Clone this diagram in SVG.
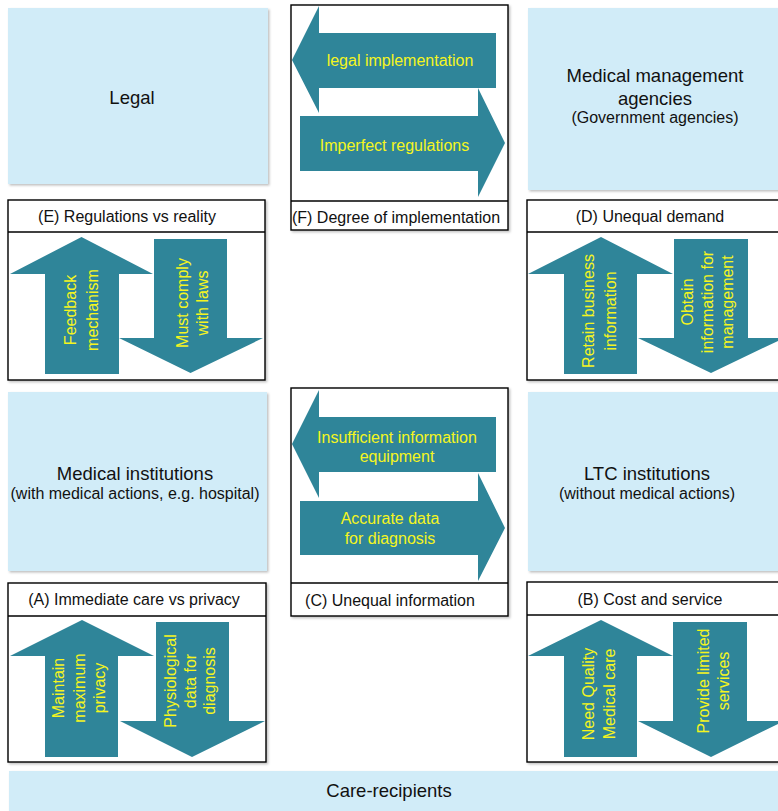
<svg xmlns="http://www.w3.org/2000/svg" width="778" height="811" viewBox="0 0 778 811">
<defs>
<filter id="sh" x="-5%" y="-5%" width="115%" height="115%">
<feDropShadow dx="1.5" dy="1.5" stdDeviation="0.8" flood-color="#000" flood-opacity="0.25"/>
</filter>
<style>
text{font-family:"Liberation Sans",Arial,Helvetica,sans-serif;text-anchor:middle;}
.blue{fill:#D1ECF8;filter:url(#sh);}
.panel{fill:#fff;stroke:#000;stroke-width:1.4;filter:url(#sh);}
.div{stroke:#000;stroke-width:1.4;fill:none;}
.arr{fill:#2F8599;}
.t1{font-size:18.5px;fill:#111;}
.t2{font-size:16px;fill:#111;}
.lab{font-size:16px;fill:#111;}
.at{font-size:16px;fill:#F5F51E;}
</style>
</defs>
<rect width="778" height="811" fill="#fff"/>

<g id="legal">
<rect class="blue" x="8" y="8" width="260" height="176"/>
<text class="t1" x="132" y="104">Legal</text>
</g>

<g id="medical-management-agencies">
<rect class="blue" x="528" y="8" width="262" height="182"/>
<text class="t1" x="655" y="82">Medical management</text>
<text class="t1" x="655" y="105">agencies</text>
<text class="t2" x="655" y="123">(Government agencies)</text>
</g>

<g id="medical-institutions">
<rect class="blue" x="8" y="392" width="259" height="179"/>
<text class="t1" x="135" y="480">Medical institutions</text>
<text class="t2" x="135" y="499">(with medical actions, e.g. hospital)</text>
</g>

<g id="ltc-institutions">
<rect class="blue" x="528" y="392" width="262" height="179"/>
<text class="t1" x="647" y="480">LTC institutions</text>
<text class="t2" x="647" y="499">(without medical actions)</text>
</g>

<g id="care-recipients">
<rect class="blue" x="9" y="771" width="781" height="45"/>
<text class="t1" x="389" y="797">Care-recipients</text>
</g>

<g id="panel-E">
<rect class="panel" x="8" y="200" width="257" height="180"/>
<line class="div" x1="8" y1="232" x2="265" y2="232"/>
<text class="lab" x="127" y="222">(E) Regulations vs reality</text>
</g>

<g id="panel-F">
<rect class="panel" x="291" y="5" width="217" height="225"/>
<line class="div" x1="291" y1="201" x2="508" y2="201"/>
<text class="lab" x="396" y="223">(F) Degree of implementation</text>
</g>

<g id="panel-D">
<rect class="panel" x="527" y="200" width="263" height="180"/>
<line class="div" x1="527" y1="232" x2="790" y2="232"/>
<text class="lab" x="650" y="222">(D) Unequal demand</text>
</g>

<g id="panel-C">
<rect class="panel" x="291" y="388" width="217" height="228"/>
<line class="div" x1="291" y1="583" x2="508" y2="583"/>
<text class="lab" x="390" y="606">(C) Unequal information</text>
</g>

<g id="panel-A">
<rect class="panel" x="8" y="583" width="258" height="179"/>
<line class="div" x1="8" y1="616" x2="266" y2="616"/>
<text class="lab" x="134" y="605">(A) Immediate care vs privacy</text>
</g>

<g id="panel-B">
<rect class="panel" x="527" y="582" width="263" height="180"/>
<line class="div" x1="527" y1="615" x2="790" y2="615"/>
<text class="lab" x="650" y="605">(B) Cost and service</text>
</g>

<g id="connectors">
<g id="arrow-legal-implementation">
<path class="arr" d="M292,60 L319,6 L319,33 L496,33 L496,88 L319,88 L319,113 Z"/>
<text class="at" x="400" y="65.6">legal implementation</text>
</g>
<g id="arrow-imperfect-regulations">
<path class="arr" d="M505,143 L478,88 L478,116 L300,116 L300,171 L478,171 L478,197 Z"/>
<text class="at" x="394.5" y="151">Imperfect regulations</text>
</g>
<g id="arrow-insufficient-info">
<path class="arr" d="M292,444 L319,390 L319,417 L496,417 L496,472 L319,472 L319,498 Z"/>
<text class="at" x="397" y="442.6">Insufficient information</text>
<text class="at" x="397" y="461.6">equipment</text>
</g>
<g id="arrow-accurate-data">
<path class="arr" d="M505,528 L478,473 L478,501 L300,501 L300,555 L478,555 L478,581 Z"/>
<text class="at" x="390" y="523.6">Accurate data</text>
<text class="at" x="390" y="543.6">for diagnosis</text>
</g>
<g id="arrow-feedback">
<path class="arr" d="M81.5,237 L153,274 L119,274 L119,374 L45,374 L45,274 L10,274 Z"/>
<text class="at" transform="translate(0,310) rotate(-90)"><tspan x="0" y="75.6">Feedback</tspan><tspan x="0" y="97.6">mechanism</tspan></text>
</g>
<g id="arrow-comply">
<path class="arr" d="M154,239 L227,239 L227,338 L263,338 L190.5,373 L119,338 L154,338 Z"/>
<text class="at" transform="translate(0,303) rotate(-90)"><tspan x="0" y="187.6">Must comply</tspan><tspan x="0" y="207.6">with laws</tspan></text>
</g>
<g id="arrow-retain">
<path class="arr" d="M601,237 L673,274 L637,274 L637,374 L564,374 L564,274 L528,274 Z"/>
<text class="at" transform="translate(0,311) rotate(-90)"><tspan x="0" y="593.6">Retain business</tspan><tspan x="0" y="615.6">information</tspan></text>
</g>
<g id="arrow-obtain">
<path class="arr" d="M674,239 L748,239 L748,338 L784,338 L711,373 L638,338 L674,338 Z"/>
<text class="at" transform="translate(0,302) rotate(-90)"><tspan x="0" y="692.6">Obtain</tspan><tspan x="0" y="712.6">information for</tspan><tspan x="0" y="732.6">management</tspan></text>
</g>
<g id="arrow-privacy">
<path class="arr" d="M82,620 L154,656 L118,656 L118,757 L45,757 L45,656 L10,656 Z"/>
<text class="at" transform="translate(0,688) rotate(-90)"><tspan x="0" y="63.6">Maintain</tspan><tspan x="0" y="84.6">maximum</tspan><tspan x="0" y="104.6">privacy</tspan></text>
</g>
<g id="arrow-physiological">
<path class="arr" d="M156,622 L229,622 L229,721 L265,721 L192,757 L120,721 L156,721 Z"/>
<text class="at" transform="translate(0,681) rotate(-90)"><tspan x="0" y="175.6">Physiological</tspan><tspan x="0" y="195.6">data for</tspan><tspan x="0" y="214.6">diagnosis</tspan></text>
</g>
<g id="arrow-quality">
<path class="arr" d="M601,620 L673,656 L637,656 L637,757 L564,757 L564,656 L528,656 Z"/>
<text class="at" transform="translate(0,694) rotate(-90)"><tspan x="0" y="593.6">Need Quality</tspan><tspan x="0" y="614.6">Medical care</tspan></text>
</g>
<g id="arrow-limited">
<path class="arr" d="M673,622 L747,622 L747,721 L784,721 L711,757 L638,721 L673,721 Z"/>
<text class="at" transform="translate(0,681) rotate(-90)"><tspan x="0" y="708.6">Provide limited</tspan><tspan x="0" y="728.6">services</tspan></text>
</g>
</g>
</svg>
